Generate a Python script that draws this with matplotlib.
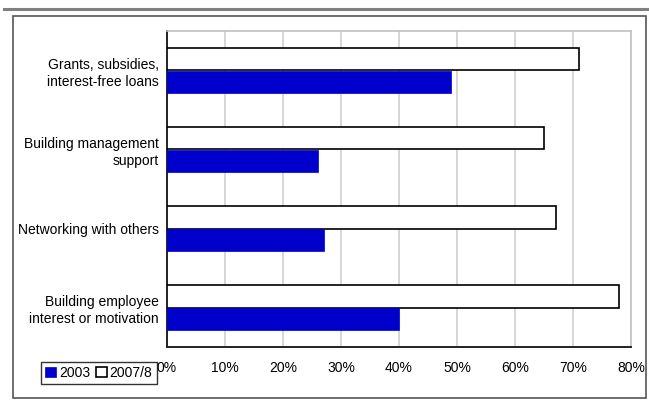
import matplotlib
matplotlib.use("Agg")
import matplotlib.pyplot as plt
from matplotlib.patches import Rectangle
from matplotlib.lines import Line2D
import numpy as np

plt.rcParams['font.family'] = ['Liberation Sans', 'DejaVu Sans']

categories = ["Grants, subsidies,\ninterest-free loans",
              "Building management\nsupport",
              "Networking with others",
              "Building employee\ninterest or motivation"]
v2003 = [49, 26, 27, 40]
v2007 = [71, 65, 67, 78]
xticks = [0, 10, 20, 30, 40, 50, 60, 70, 80]
xticklabels = ["0%", "10%", "20%", "30%", "40%", "50%", "60%", "70%", "80%"]

W, H = 649, 400
fig = plt.figure(figsize=(W/100, H/100), dpi=100)

# top gray rule
fig.add_artist(Line2D([4/W, 1.0], [1-9/H, 1-9/H], color='#808080', lw=2.2, transform=fig.transFigure))
# outer frame
fig.add_artist(Rectangle((13/W, 1-398/H), (646-13)/W, (398-16)/H, transform=fig.transFigure,
                         fill=False, edgecolor='#555555', lw=1.2))

ax = fig.add_axes([167/W, 1-347/H, (631-167)/W, (347-31)/H])
n = len(categories)
y = np.arange(n)
bh = 0.29
ax.barh(y - bh/2, v2007, height=bh, color='white', edgecolor='black', lw=1.2, label='2007/8', zorder=3)
ax.barh(y + bh/2, v2003, height=bh, color='#0000CC', edgecolor='#0000CC', lw=0.5, label='2003', zorder=3)

ax.set_xlim(0, 80)
ax.set_ylim(n - 0.5, -0.5)
ax.set_xticks(xticks)
ax.set_xticklabels(xticklabels, fontsize=10)
ax.set_yticks(y)
ax.set_yticklabels(categories, fontsize=10, linespacing=1.25, ha='right', multialignment='right')
ax.tick_params(axis='y', length=0, pad=6)
ax.tick_params(axis='x', length=0, pad=10)
ax.grid(axis='x', color='#d0d0d0', lw=1.2, zorder=0)
for s in ['top', 'right']:
    ax.spines[s].set_color('#c0c0c0')
    ax.spines[s].set_linewidth(1.2)
for s in ['left', 'bottom']:
    ax.spines[s].set_color('#222222')
    ax.spines[s].set_linewidth(1.4)

h, l = ax.get_legend_handles_labels()
leg = fig.legend([h[1], h[0]], [l[1], l[0]], loc='lower left',
                 bbox_to_anchor=(41/W, 1-384/H), ncol=2, fontsize=10,
                 frameon=True, fancybox=False, edgecolor='black', handlelength=0.8,
                 handleheight=0.8, handletextpad=0.2, columnspacing=0.4,
                 borderpad=0.3, borderaxespad=0)
leg.get_frame().set_linewidth(1.0)
leg.set_zorder(10)

fig.savefig("out.png", dpi=100)
